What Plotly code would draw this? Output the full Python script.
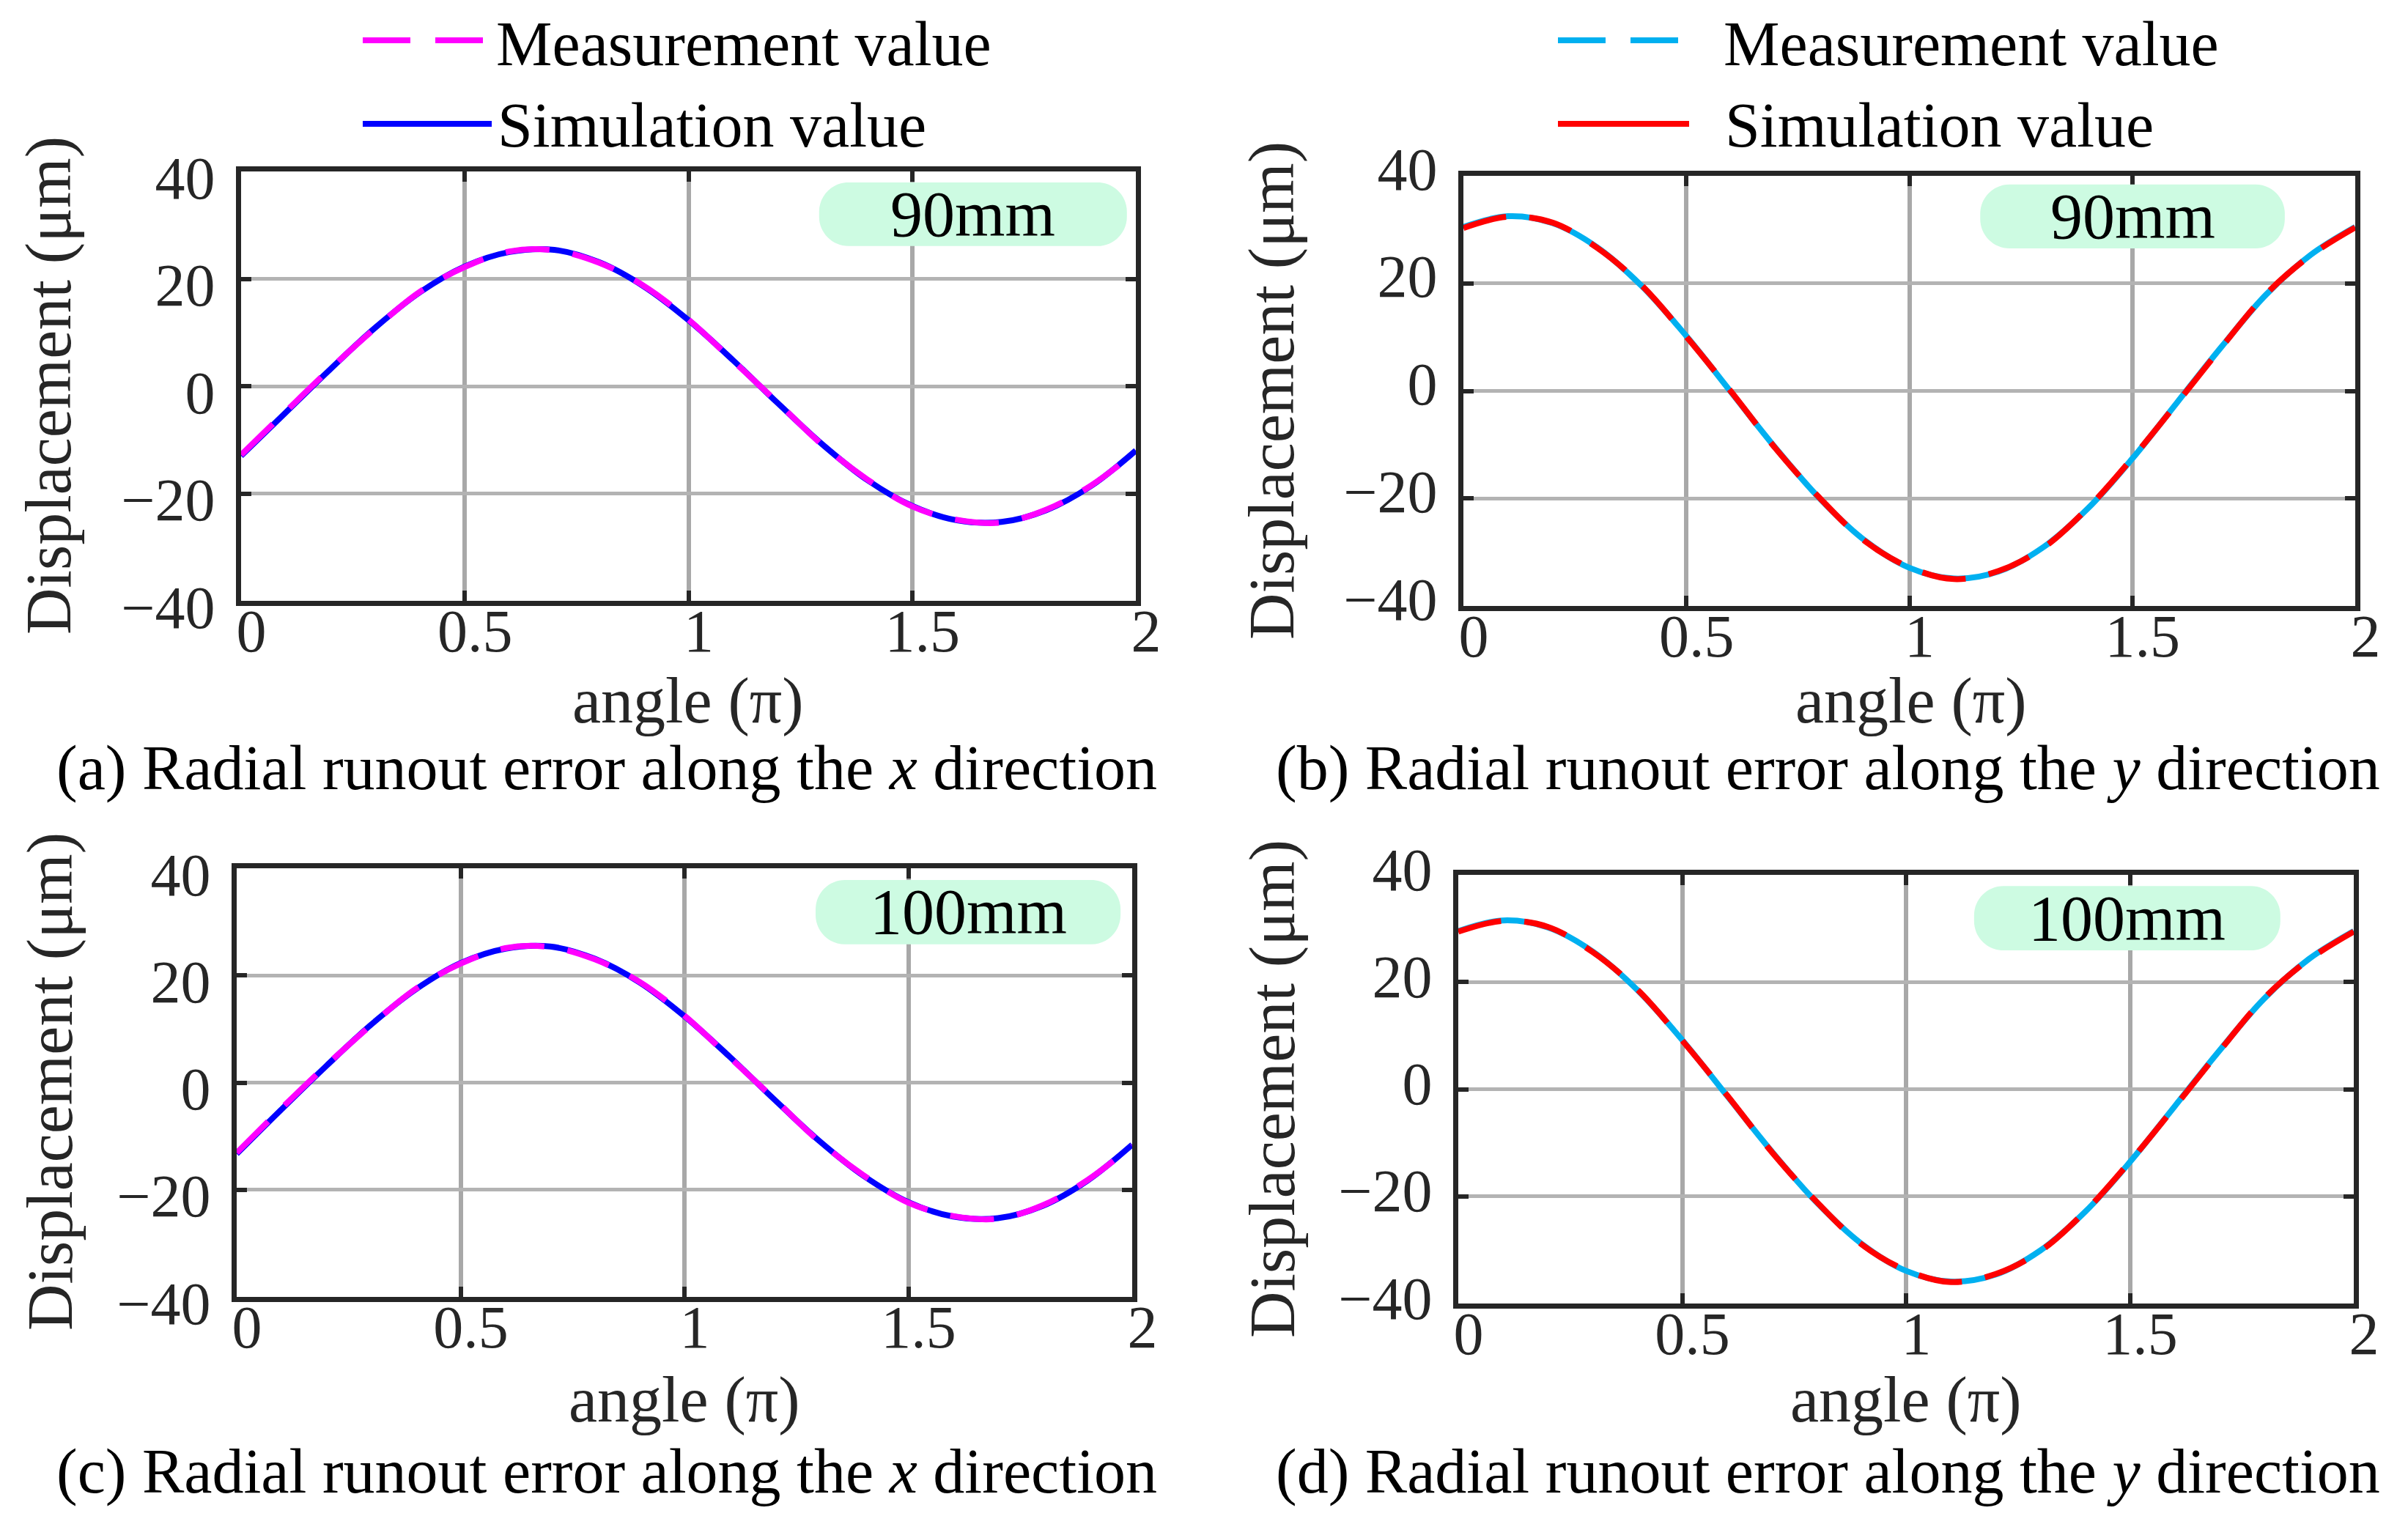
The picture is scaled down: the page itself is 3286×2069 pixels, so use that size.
import plotly.graph_objects as go

W, H = 3286, 2069

# ---- data ----
angle = [0.0, 0.1, 0.2, 0.3, 0.4, 0.5, 0.6, 0.7, 0.8, 0.9, 1.0,
         1.1, 1.2, 1.3, 1.4, 1.5, 1.6, 1.7, 1.8, 1.9, 2.0]

sim_a = [-13.0, -4.9, 3.2, 10.9, 17.5, 22.3, 25.0, 25.4, 23.1, 18.6, 12.3,
         4.8, -3.2, -10.9, -17.5, -22.3, -25.0, -25.3, -23.1, -18.6, -12.0]
meas_a = [-12.8, -4.7, 3.3, 10.8, 17.6, 22.2, 25.1, 25.3, 23.0, 18.7, 12.4,
          4.7, -3.1, -11.0, -17.4, -22.4, -24.9, -25.4, -23.0, -18.5, -12.2]

sim_b = [30.5, 32.5, 31.2, 26.7, 19.5, 10.2, -0.2, -10.6, -20.1, -27.8, -32.9,
         -34.9, -33.6, -29.1, -21.9, -12.6, -2.2, 8.2, 17.9, 25.3, 30.5]
meas_b = [30.3, 32.4, 31.3, 26.6, 19.6, 10.1, -0.1, -10.7, -20.0, -27.9, -32.8,
          -35.0, -33.5, -29.2, -21.8, -12.5, -2.3, 8.1, 18.0, 25.2, 30.4]

sim_c = [-13.3, -5.0, 3.1, 10.8, 17.4, 22.3, 25.0, 25.4, 23.1, 18.7, 12.4,
         4.9, -3.1, -10.8, -17.4, -22.3, -25.0, -25.3, -23.0, -18.3, -11.6]
meas_c = [-13.1, -4.8, 3.2, 10.7, 17.5, 22.2, 25.1, 25.3, 23.0, 18.8, 12.5,
          4.8, -3.0, -10.9, -17.3, -22.4, -24.9, -25.4, -22.9, -18.2, -11.8]

sim_d = [29.5, 31.5, 30.2, 25.7, 18.5, 9.2, -1.2, -11.6, -21.1, -28.8, -33.9,
         -35.9, -34.6, -30.1, -22.9, -13.6, -3.2, 7.2, 16.9, 24.3, 29.5]
meas_d = [29.4, 31.4, 30.3, 25.6, 18.6, 9.1, -1.1, -11.7, -21.0, -28.9, -33.8,
          -36.0, -34.5, -30.2, -22.8, -13.5, -3.3, 7.1, 17.0, 24.2, 29.4]

x_ticks = [0, 0.5, 1, 1.5, 2]
x_ticktext = ['0', '0.5', '1', '1.5', '2']
y_ticks = [-40, -20, 0, 20, 40]

labels = ['90mm', '90mm', '100mm', '100mm']
captions = ['(a) Radial runout error along the <i>x</i> direction',
            '(b) Radial runout error along the <i>y</i> direction',
            '(c) Radial runout error along the <i>x</i> direction',
            '(d) Radial runout error along the <i>y</i> direction']

FONT = 'Liberation Serif'
FRAME = '#262626'


def px(x):
    return x / W


def py(y):
    return 1 - y / H


def pill(x0, x1, y0, y1, rx, ry):
    k = 0.5523
    return (f'M{x0+rx},{y1} L{x1-rx},{y1} '
            f'C{x1-rx+k*rx},{y1} {x1},{y1-ry+k*ry} {x1},{y1-ry} '
            f'L{x1},{y0+ry} '
            f'C{x1},{y0+ry-k*ry} {x1-rx+k*rx},{y0} {x1-rx},{y0} '
            f'L{x0+rx},{y0} '
            f'C{x0+rx-k*rx},{y0} {x0},{y0+ry-k*ry} {x0},{y0+ry} '
            f'L{x0},{y1-ry} '
            f'C{x0},{y1-ry+k*ry} {x0+rx-k*rx},{y1} {x0+rx},{y1} Z')


# panel frames in pixels: left, right, top, bottom
panels = [
    dict(box=(321, 1542, 226, 812), sim=sim_a, meas=meas_a, under='#0000ff', over='#ff00ff',
         badge=(1.292, 1.980, 26.1, 37.95), shift=8, ytitle=(58, 518), xtitle=(931, 948),
         cap=(820, 1040)),
    dict(box=(1989, 3206, 232, 819), sim=sim_b, meas=meas_b, under='#00b0f0', over='#ff0000',
         badge=(1.159, 1.842, 26.5, 38.4), shift=-10, ytitle=(1728, 525), xtitle=(2600, 948),
         cap=(2486, 1040)),
    dict(box=(315, 1537, 1177, 1762), sim=sim_c, meas=meas_c, under='#0000ff', over='#ff00ff',
         badge=(1.293, 1.974, 25.8, 37.8), shift=8, ytitle=(60, 1468), xtitle=(926, 1902),
         cap=(820, 2000)),
    dict(box=(1982, 3204, 1186, 1771), sim=sim_d, meas=meas_d, under='#00b0f0', over='#ff0000',
         badge=(1.152, 1.836, 25.9, 37.9), shift=-8, ytitle=(1728, 1478), xtitle=(2593, 1902),
         cap=(2486, 2000)),
]

fig = go.Figure()
shapes = []
annotations = []
layout = {}

for i, p in enumerate(panels):
    n = '' if i == 0 else str(i + 1)
    xa, ya = 'x' + n, 'y' + n
    left, right, top, bottom = p['box']

    fig.add_trace(go.Scatter(x=angle, y=p['sim'], mode='lines', line_shape='spline',
                             line=dict(color=p['under'], width=8),
                             xaxis=xa, yaxis=ya, showlegend=False))
    fig.add_trace(go.Scatter(x=angle, y=p['meas'], mode='lines', line_shape='spline',
                             line=dict(color=p['over'], width=8, dash='60px,32px'),
                             xaxis=xa, yaxis=ya, showlegend=False))

    axis_common = dict(showline=True, mirror='ticks', linecolor=FRAME, linewidth=7,
                       ticks='inside', ticklen=14, tickwidth=6, tickcolor=FRAME,
                       showgrid=True, zeroline=False, automargin=False,
                       tickfont=dict(family=FONT, size=82, color=FRAME))
    layout['xaxis' + n] = dict(axis_common, domain=[px(left), px(right)], anchor=ya,
                               range=[0, 2], tickvals=x_ticks, ticktext=x_ticktext,
                               gridcolor='#a8a8a8', gridwidth=6,
                               ticklabelstandoff=-36, ticklabelshift=14)
    layout['yaxis' + n] = dict(axis_common, domain=[py(bottom), py(top)], anchor=xa,
                               range=[-40, 40], tickvals=y_ticks,
                               gridcolor='#b3b3b3', gridwidth=5,
                               ticklabelstandoff=12, ticklabelshift=p['shift'])

    # label badge
    bx0, bx1, by0, by1 = p['badge']
    rx = 40 / ((right - left) / 2)
    ry = 40 / ((bottom - top) / 80)
    shapes.append(dict(type='path', path=pill(bx0, bx1, by0, by1, rx, ry),
                       xref=xa, yref=ya, fillcolor='#cdfbe2', line=dict(width=0),
                       layer='above'))
    annotations.append(dict(x=(bx0 + bx1) / 2, y=(by0 + by1) / 2, xref=xa, yref=ya,
                            text=labels[i], showarrow=False,
                            font=dict(family=FONT, size=88, color='black'),
                            xanchor='center', yanchor='middle'))

    # axis titles and caption
    tx, ty = p['ytitle']
    annotations.append(dict(x=px(tx), y=py(ty), xref='paper', yref='paper',
                            text='Displacement (μm)', textangle=-90, showarrow=False,
                            font=dict(family=FONT, size=88, color=FRAME),
                            xanchor='center', yanchor='middle'))
    tx, ty = p['xtitle']
    annotations.append(dict(x=px(tx), y=py(ty), xref='paper', yref='paper',
                            text='angle (π)', showarrow=False,
                            font=dict(family=FONT, size=88, color=FRAME),
                            xanchor='center', yanchor='middle'))
    tx, ty = p['cap']
    annotations.append(dict(x=px(tx), y=py(ty), xref='paper', yref='paper',
                            text=captions[i], showarrow=False,
                            font=dict(family=FONT, size=86, color='black'),
                            xanchor='center', yanchor='middle'))

# hand-drawn legends above each column
legends = [
    dict(x0=487, dash_end=652, solid_end=663, text_x=667, meas='#ff00ff', sim='#0000ff'),
    dict(x0=2118, dash_end=2284, solid_end=2297, text_x=2342, meas='#00b0f0', sim='#ff0000'),
]
for lg in legends:
    shapes.append(dict(type='line', xref='paper', yref='paper',
                       x0=px(lg['x0']), x1=px(lg['dash_end']), y0=py(47), y1=py(47),
                       line=dict(color=lg['meas'], width=8, dash='65px,34px')))
    shapes.append(dict(type='line', xref='paper', yref='paper',
                       x0=px(lg['x0']), x1=px(lg['solid_end']), y0=py(161), y1=py(161),
                       line=dict(color=lg['sim'], width=8)))
    annotations.append(dict(x=px(lg['text_x']), y=py(52), xref='paper', yref='paper',
                            text='Measurement value', showarrow=False,
                            font=dict(family=FONT, size=86, color='black'),
                            xanchor='left', yanchor='middle'))
    annotations.append(dict(x=px(lg['text_x'] + 2), y=py(163), xref='paper', yref='paper',
                            text='Simulation value', showarrow=False,
                            font=dict(family=FONT, size=86, color='black'),
                            xanchor='left', yanchor='middle'))

fig.update_layout(**layout)
fig.update_layout(
    width=W, height=H,
    margin=dict(l=0, r=0, t=0, b=0, autoexpand=False),
    paper_bgcolor='white', plot_bgcolor='white',
    shapes=shapes, annotations=annotations,
    showlegend=False,
)

fig.write_html("out.html")
